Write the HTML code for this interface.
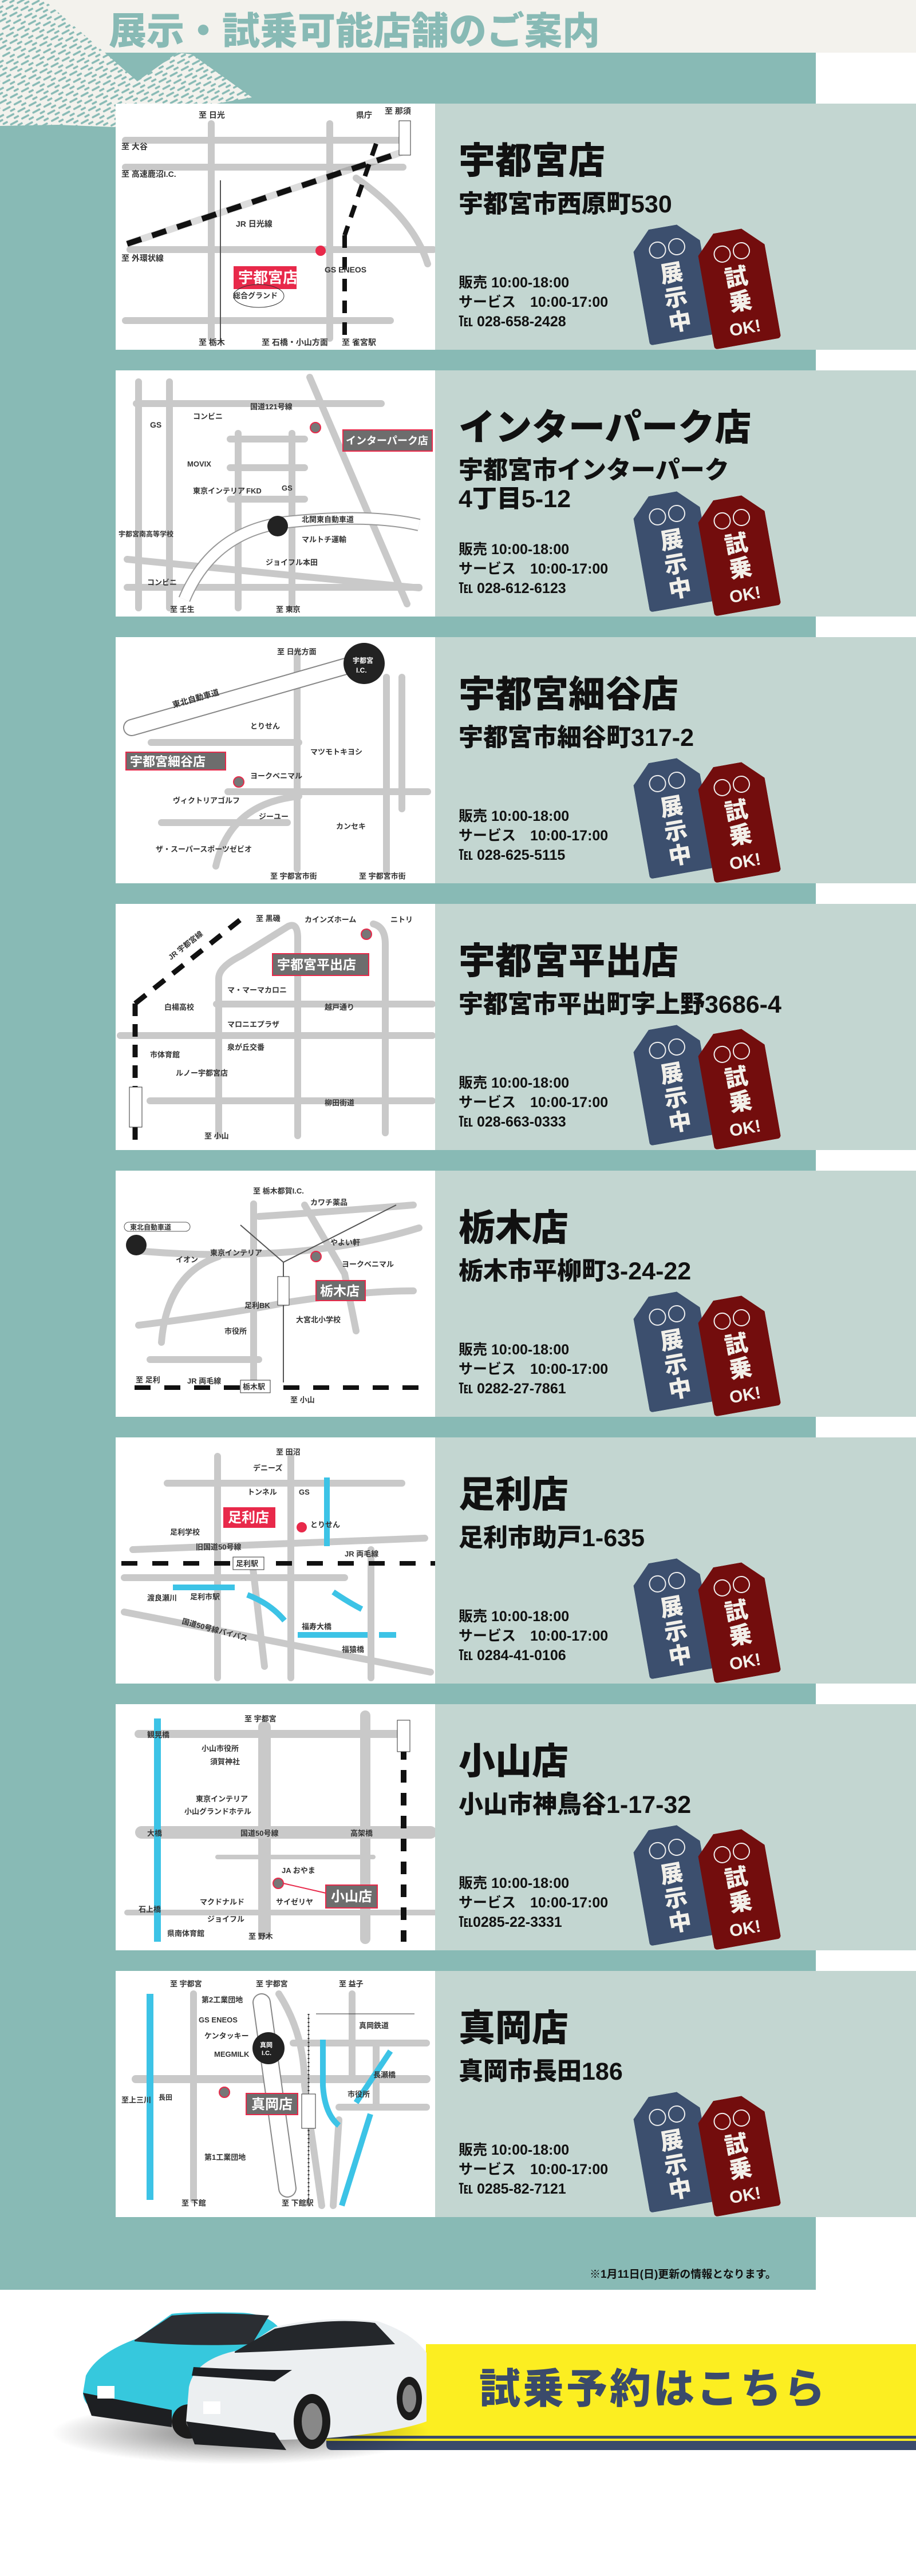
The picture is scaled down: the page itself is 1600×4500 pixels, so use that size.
<!DOCTYPE html>
<html><head><meta charset="utf-8">
<style>
*{margin:0;padding:0;box-sizing:border-box}
body{width:1600px;height:4500px;background:#fff;position:relative;overflow:hidden;font-family:"Liberation Sans","Noto Sans CJK JP",sans-serif}
.abs{position:absolute}
.title{left:190px;top:14px;font-size:66px;font-weight:900;color:#88bab5;letter-spacing:0px;white-space:nowrap;line-height:80px}
.card{position:absolute;left:202px;width:1398px;height:430px;background:#c3d6d1}
.map{position:absolute;left:0;top:0;width:558px;height:430px;background:#fff}
.name{position:absolute;left:599px;top:62px;font-size:64px;font-weight:900;color:#111;white-space:nowrap;line-height:76px}
.addr{position:absolute;left:599px;top:150px;font-size:43px;font-weight:900;color:#111;white-space:nowrap;line-height:52px}
.hrs{position:absolute;left:599px;top:296px;font-size:25px;font-weight:700;color:#111;line-height:34px;white-space:pre}
.tag{position:absolute;width:118px;height:200px;border-radius:6px;clip-path:polygon(28% 0,70% 0,100% 17%,100% 100%,0 100%,0 17%)}
.tag .t{position:absolute;left:0;right:0;top:62px;color:#f2f0ea;font-weight:900;font-size:40px;line-height:43px;text-align:center}
.gl{position:absolute;top:22px;left:20px;width:80px;height:32px}
.tb{background:#3c4f6e}.tr{background:#730d0d}
svg text{font-family:"Liberation Sans","Noto Sans CJK JP",sans-serif;font-weight:700;fill:#333}
</style></head><body>
<div class="abs" style="left:0;top:0;width:1600px;height:4000px;background:#f3f2ed"></div>
<div class="abs" style="left:1425px;top:92px;width:175px;height:3908px;background:#fff"></div>
<div class="abs" style="left:0;top:92px;width:1425px;height:3908px;background:#88bab5"></div>
<svg class="abs" style="left:0;top:0" width="460" height="240">
<defs><pattern id="p" width="22" height="14" patternUnits="userSpaceOnUse" patternTransform="rotate(-28)">
<rect width="22" height="14" fill="#f3f2ed"/><line x1="3" y1="5" x2="15" y2="5" stroke="#88bab5" stroke-width="3.5" stroke-linecap="round"/><line x1="14" y1="12" x2="21" y2="12" stroke="#88bab5" stroke-width="3.5" stroke-linecap="round"/></pattern></defs>
<polygon points="0,0 77,0 183,92 240,142 310,92 335,95 440,170 300,195 200,222 100,218 0,220" fill="url(#p)"/>
</svg>
<div class="abs title">展示・試乗可能店舗のご案内</div>

<!-- CARD 1 -->
<div class="card" style="top:181px">
<svg class="map" viewBox="0 0 558 430" width="558" height="430">
<g stroke="#c9c9c9" stroke-width="12" stroke-linecap="round" fill="none">
<line x1="17" y1="64" x2="502" y2="64"/><line x1="17" y1="111" x2="502" y2="111"/><line x1="25" y1="255" x2="555" y2="255"/><line x1="17" y1="379" x2="480" y2="379"/>
<line x1="167" y1="35" x2="167" y2="410"/><line x1="374" y1="35" x2="374" y2="410"/>
<path d="M420 130 Q520 200 545 280" /></g>
<line x1="20" y1="245" x2="500" y2="85" stroke="#111" stroke-width="10" stroke-dasharray="26 20"/>
<line x1="20" y1="245" x2="500" y2="85" stroke="#111" stroke-width="12" stroke-opacity=".15"/>
<line x1="400" y1="230" x2="400" y2="420" stroke="#111" stroke-width="8" stroke-dasharray="22 16"/>
<line x1="455" y1="70" x2="400" y2="230" stroke="#111" stroke-width="8" stroke-dasharray="22 16"/>
<line x1="183" y1="134" x2="183" y2="415" stroke="#555" stroke-width="2"/>
<rect x="495" y="30" width="20" height="60" fill="#fff" stroke="#333"/>
<rect x="206" y="284" width="110" height="40" fill="#e8294a"/><text x="214" y="313" font-size="26" style="fill:#fff">宇都宮店</text>
<circle cx="358" cy="257" r="9" fill="#e8294a"/>
<text x="145" y="25" font-size="14">至 日光</text><text x="10" y="80" font-size="14">至 大谷</text><text x="10" y="128" font-size="14">至 高速鹿沼I.C.</text><text x="10" y="275" font-size="14">至 外環状線</text><text x="145" y="422" font-size="14">至 栃木</text><text x="255" y="422" font-size="14">至 石橋・小山方面</text><text x="395" y="422" font-size="14">至 雀宮駅</text><text x="365" y="295" font-size="14">GS ENEOS</text><text x="420" y="25" font-size="14">県庁</text><text x="470" y="18" font-size="14">至 那須</text><text x="210" y="215" font-size="14">JR 日光線</text><text x="205" y="340" font-size="13">総合グランド</text>
<ellipse cx="250" cy="336" rx="44" ry="20" fill="none" stroke="#333"/>
</svg>
<div class="name">宇都宮店</div><div class="addr">宇都宮市西原町530</div>
<div class="hrs">販売 10:00-18:00
サービス　10:00-17:00
℡ 028-658-2428</div>
</div>

<!-- CARD 2 -->
<div class="card" style="top:647px">
<svg class="map" viewBox="0 0 558 430" width="558" height="430">
<g stroke="#c9c9c9" stroke-width="12" stroke-linecap="round" fill="none">
<line x1="36" y1="58" x2="464" y2="58"/><line x1="40" y1="20" x2="40" y2="415"/><line x1="94" y1="20" x2="94" y2="415"/><line x1="214" y1="110" x2="214" y2="415"/><line x1="308" y1="110" x2="308" y2="415"/>
<line x1="339" y1="12" x2="509" y2="408"/><line x1="20" y1="330" x2="530" y2="380"/><line x1="20" y1="379" x2="530" y2="379"/>
<path d="M200 120 H330 M200 170 H330 M200 225 H330"/></g>
<path d="M120 400 Q170 280 300 265 Q440 250 530 270" stroke="#999" stroke-width="22" fill="none"/><path d="M120 400 Q170 280 300 265 Q440 250 530 270" stroke="#fff" stroke-width="18" fill="none"/>
<circle cx="283" cy="272" r="18" fill="#222"/>
<rect x="397" y="104" width="156" height="37" fill="#6d6d6d" stroke="#e8294a" stroke-width="2"/><text x="402" y="129" font-size="18" style="fill:#fff">インターパーク店</text>
<circle cx="349" cy="100" r="9" fill="#777" stroke="#e8294a" stroke-width="2"/>
<text x="235" y="68" font-size="13">国道121号線</text><text x="135" y="85" font-size="13">コンビニ</text><text x="60" y="100" font-size="14">GS</text><text x="125" y="168" font-size="13">MOVIX</text><text x="135" y="215" font-size="13">東京インテリア</text><text x="228" y="215" font-size="13">FKD</text><text x="290" y="210" font-size="13">GS</text><text x="325" y="265" font-size="13">北関東自動車道</text><text x="325" y="300" font-size="13">マルトチ運輸</text><text x="262" y="340" font-size="13">ジョイフル本田</text><text x="55" y="375" font-size="13">コンビニ</text><text x="95" y="422" font-size="13">至 壬生</text><text x="280" y="422" font-size="13">至 東京</text><text x="5" y="290" font-size="12">宇都宮南高等学校</text>
</svg>
<div class="name">インターパーク店</div><div class="addr" style="top:150px;line-height:50px">宇都宮市インターパーク<br>4丁目5-12</div>
<div class="hrs">販売 10:00-18:00
サービス　10:00-17:00
℡ 028-612-6123</div>
</div>

<!-- CARD 3 -->
<div class="card" style="top:1113px">
<svg class="map" viewBox="0 0 558 430" width="558" height="430">
<g stroke="#c9c9c9" stroke-width="12" stroke-linecap="round" fill="none">
<line x1="317" y1="25" x2="317" y2="405"/><line x1="473" y1="70" x2="473" y2="410"/><line x1="500" y1="70" x2="500" y2="300"/>
<line x1="62" y1="184" x2="320" y2="184"/><line x1="196" y1="270" x2="545" y2="270"/><line x1="80" y1="324" x2="300" y2="324"/>
<path d="M175 400 Q200 290 320 278"/></g>
<path d="M28 158 L440 40" stroke="#888" stroke-width="30" stroke-linecap="round"/><path d="M28 158 L440 40" stroke="#fff" stroke-width="26" stroke-linecap="round"/>
<circle cx="434" cy="46" r="36" fill="#222"/><text x="414" y="45" font-size="12" style="fill:#fff">宇都宮</text><text x="420" y="62" font-size="12" style="fill:#fff">I.C.</text>
<rect x="18" y="201" width="174" height="31" fill="#6d6d6d" stroke="#e8294a" stroke-width="2"/><text x="25" y="225" font-size="22" style="fill:#fff">宇都宮細谷店</text>
<circle cx="215" cy="253" r="9" fill="#777" stroke="#e8294a" stroke-width="2"/>
<text x="100" y="118" font-size="14" transform="rotate(-16 120 118)">東北自動車道</text><text x="235" y="160" font-size="13">とりせん</text><text x="340" y="205" font-size="13">マツモトキヨシ</text><text x="235" y="247" font-size="13">ヨークベニマル</text><text x="100" y="290" font-size="13">ヴィクトリアゴルフ</text><text x="250" y="318" font-size="13">ジーユー</text><text x="385" y="335" font-size="13">カンセキ</text><text x="70" y="375" font-size="13">ザ・スーパースポーツゼビオ</text><text x="270" y="422" font-size="13">至 宇都宮市街</text><text x="425" y="422" font-size="13">至 宇都宮市街</text><text x="282" y="30" font-size="13">至 日光方面</text>
</svg>
<div class="name">宇都宮細谷店</div><div class="addr">宇都宮市細谷町317-2</div>
<div class="hrs">販売 10:00-18:00
サービス　10:00-17:00
℡ 028-625-5115</div>
</div>

<!-- CARD 4 -->
<div class="card" style="top:1579px">
<svg class="map" viewBox="0 0 558 430" width="558" height="430">
<g stroke="#c9c9c9" stroke-width="12" stroke-linecap="round" fill="none">
<path d="M180 405 V130 Q180 110 220 90 L300 40 Q318 30 318 60 V405"/><path d="M471 400 V70 Q471 40 450 35"/>
<line x1="176" y1="175" x2="553" y2="175"/><line x1="8" y1="230" x2="553" y2="230"/><line x1="60" y1="344" x2="553" y2="344"/></g>
<line x1="34" y1="174" x2="230" y2="18" stroke="#111" stroke-width="9" stroke-dasharray="24 18"/>
<line x1="34" y1="174" x2="34" y2="415" stroke="#111" stroke-width="9" stroke-dasharray="22 14"/>
<rect x="24" y="320" width="22" height="70" fill="#fff" stroke="#333"/>
<rect x="274" y="87" width="168" height="38" fill="#6d6d6d" stroke="#e8294a" stroke-width="2"/><text x="282" y="114" font-size="23" style="fill:#fff">宇都宮平出店</text>
<circle cx="438" cy="53" r="9" fill="#777" stroke="#e8294a" stroke-width="2"/>
<text x="245" y="30" font-size="13">至 黒磯</text><text x="330" y="32" font-size="13">カインズホーム</text><text x="480" y="32" font-size="13">ニトリ</text><text x="195" y="155" font-size="13">マ・マーマカロニ</text><text x="365" y="185" font-size="13">越戸通り</text><text x="85" y="185" font-size="13">白楊高校</text><text x="195" y="215" font-size="13">マロニエプラザ</text><text x="195" y="255" font-size="13">泉が丘交番</text><text x="60" y="268" font-size="13">市体育館</text><text x="105" y="300" font-size="13">ルノー宇都宮店</text><text x="365" y="352" font-size="13">柳田街道</text><text x="155" y="410" font-size="13">至 小山</text><text x="90" y="80" font-size="13" transform="rotate(-38 120 80)">JR 宇都宮線</text>
</svg>
<div class="name">宇都宮平出店</div><div class="addr">宇都宮市平出町字上野3686-4</div>
<div class="hrs">販売 10:00-18:00
サービス　10:00-17:00
℡ 028-663-0333</div>
</div>

<!-- CARD 5 -->
<div class="card" style="top:2045px">
<svg class="map" viewBox="0 0 558 430" width="558" height="430">
<g stroke="#c9c9c9" stroke-width="12" stroke-linecap="round" fill="none">
<line x1="241" y1="58" x2="241" y2="379"/><path d="M38 140 Q150 150 250 145 Q400 140 530 100"/><path d="M40 270 Q200 250 300 230 Q430 210 520 210"/><path d="M80 300 Q90 180 180 150"/><path d="M250 80 Q400 70 520 60"/><path d="M330 60 L400 180 L420 280"/><path d="M60 330 L250 330"/></g>
<line x1="33" y1="379" x2="530" y2="379" stroke="#111" stroke-width="8" stroke-dasharray="28 24"/>
<line x1="293" y1="160" x2="293" y2="370" stroke="#555" stroke-width="2"/><line x1="293" y1="160" x2="490" y2="60" stroke="#555" stroke-width="2"/><line x1="293" y1="160" x2="218" y2="95" stroke="#555" stroke-width="2"/>
<rect x="283" y="185" width="20" height="50" fill="#fff" stroke="#333"/><rect x="218" y="366" width="52" height="22" fill="#fff" stroke="#333"/><text x="222" y="382" font-size="13">栃木駅</text>
<circle cx="36" cy="130" r="18" fill="#222"/><rect x="15" y="90" width="115" height="16" rx="8" fill="#fff" stroke="#555"/><text x="25" y="103" font-size="12">東北自動車道</text>
<rect x="350" y="192" width="86" height="35" fill="#6d6d6d" stroke="#e8294a" stroke-width="2"/><text x="357" y="218" font-size="23" style="fill:#fff">栃木店</text>
<circle cx="350" cy="150" r="9" fill="#777" stroke="#e8294a" stroke-width="2"/>
<text x="240" y="40" font-size="13">至 栃木都賀I.C.</text><text x="340" y="60" font-size="13">カワチ薬品</text><text x="375" y="130" font-size="13">やよい軒</text><text x="395" y="168" font-size="13">ヨークベニマル</text><text x="105" y="160" font-size="13">イオン</text><text x="165" y="148" font-size="13">東京インテリア</text><text x="225" y="240" font-size="13">足利BK</text><text x="190" y="285" font-size="13">市役所</text><text x="315" y="265" font-size="13">大宮北小学校</text><text x="125" y="372" font-size="13">JR 両毛線</text><text x="305" y="405" font-size="13">至 小山</text><text x="35" y="370" font-size="13">至 足利</text>
</svg>
<div class="name">栃木店</div><div class="addr">栃木市平柳町3-24-22</div>
<div class="hrs">販売 10:00-18:00
サービス　10:00-17:00
℡ 0282-27-7861</div>
</div>

<!-- CARD 6 -->
<div class="card" style="top:2511px">
<svg class="map" viewBox="0 0 558 430" width="558" height="430">
<g stroke="#c9c9c9" stroke-width="12" stroke-linecap="round" fill="none">
<line x1="90" y1="80" x2="500" y2="80"/><line x1="30" y1="196" x2="540" y2="176"/><line x1="15" y1="245" x2="400" y2="245"/><line x1="178" y1="33" x2="178" y2="420"/><line x1="306" y1="33" x2="306" y2="420"/><line x1="446" y1="196" x2="446" y2="420"/><path d="M15 305 L550 410"/><path d="M240 230 L260 400"/></g>
<line x1="10" y1="220" x2="558" y2="220" stroke="#111" stroke-width="8" stroke-dasharray="28 26"/>
<rect x="205" y="209" width="54" height="22" fill="#fff" stroke="#333"/><text x="210" y="225" font-size="13">足利駅</text>
<g stroke="#3cc3e6" stroke-width="10" fill="none"><line x1="369" y1="70" x2="369" y2="190"/><path d="M100 262 H208"/><path d="M230 275 Q270 290 295 320"/><path d="M318 345 H440"/><path d="M380 270 Q410 290 430 300"/><path d="M460 345 H490"/></g>
<rect x="188" y="122" width="91" height="36" fill="#e8294a"/><text x="196" y="148" font-size="24" style="fill:#fff">足利店</text>
<circle cx="325" cy="157" r="9" fill="#e8294a"/>
<text x="280" y="30" font-size="13">至 田沼</text><text x="240" y="58" font-size="13">デニーズ</text><text x="230" y="100" font-size="13">トンネル</text><text x="320" y="100" font-size="13">GS</text><text x="340" y="157" font-size="13">とりせん</text><text x="95" y="170" font-size="13">足利学校</text><text x="140" y="196" font-size="13">旧国道50号線</text><text x="400" y="208" font-size="13">JR 両毛線</text><text x="55" y="285" font-size="13">渡良瀬川</text><text x="130" y="283" font-size="13">足利市駅</text><text x="115" y="325" font-size="13" transform="rotate(15 115 325)">国道50号線バイパス</text><text x="325" y="335" font-size="13">福寿大橋</text><text x="395" y="375" font-size="13">福猿橋</text>
</svg>
<div class="name">足利店</div><div class="addr">足利市助戸1-635</div>
<div class="hrs">販売 10:00-18:00
サービス　10:00-17:00
℡ 0284-41-0106</div>
</div>

<!-- CARD 7 -->
<div class="card" style="top:2977px">
<svg class="map" viewBox="0 0 558 430" width="558" height="430">
<g stroke="#c9c9c9" stroke-linecap="round" fill="none">
<line x1="40" y1="52" x2="500" y2="52" stroke-width="14"/><line x1="45" y1="224" x2="550" y2="224" stroke-width="22"/><line x1="178" y1="267" x2="450" y2="267" stroke-width="8"/><line x1="20" y1="364" x2="558" y2="364" stroke-width="10"/><line x1="260" y1="40" x2="260" y2="400" stroke-width="22"/><line x1="436" y1="20" x2="436" y2="410" stroke-width="18"/></g>
<line x1="73" y1="25" x2="73" y2="415" stroke="#3cc3e6" stroke-width="12"/>
<line x1="503" y1="35" x2="503" y2="415" stroke="#111" stroke-width="10" stroke-dasharray="22 18"/><rect x="492" y="28" width="22" height="55" fill="#fff" stroke="#333"/>
<rect x="367" y="316" width="90" height="40" fill="#6d6d6d" stroke="#e8294a" stroke-width="2"/><text x="376" y="344" font-size="24" style="fill:#fff">小山店</text>
<circle cx="284" cy="313" r="9" fill="#777" stroke="#e8294a" stroke-width="2"/><path d="M293 313 L367 330" stroke="#e8294a" stroke-width="2"/>
<text x="225" y="30" font-size="13">至 宇都宮</text><text x="55" y="58" font-size="13">観晃橋</text><text x="150" y="82" font-size="13">小山市役所</text><text x="165" y="105" font-size="13">須賀神社</text><text x="140" y="170" font-size="13">東京インテリア</text><text x="120" y="192" font-size="13">小山グランドホテル</text><text x="55" y="230" font-size="13">大橋</text><text x="218" y="230" font-size="13">国道50号線</text><text x="410" y="230" font-size="13">高架橋</text><text x="290" y="295" font-size="13">JA おやま</text><text x="147" y="350" font-size="13">マクドナルド</text><text x="280" y="350" font-size="13">サイゼリヤ</text><text x="160" y="380" font-size="13">ジョイフル</text><text x="90" y="405" font-size="13">県南体育館</text><text x="232" y="410" font-size="13">至 野木</text><text x="40" y="363" font-size="13">石上橋</text>
</svg>
<div class="name">小山店</div><div class="addr">小山市神鳥谷1-17-32</div>
<div class="hrs">販売 10:00-18:00
サービス　10:00-17:00
℡0285-22-3331</div>
</div>

<!-- CARD 8 -->
<div class="card" style="top:3443px">
<svg class="map" viewBox="0 0 558 430" width="558" height="430">
<g stroke="#c9c9c9" stroke-width="12" stroke-linecap="round" fill="none">
<line x1="35" y1="189" x2="543" y2="189" stroke-width="14"/><line x1="310" y1="126" x2="543" y2="126"/><line x1="390" y1="238" x2="543" y2="238"/><line x1="136" y1="40" x2="136" y2="400"/><line x1="413" y1="40" x2="413" y2="189"/><line x1="455" y1="126" x2="455" y2="238"/><path d="M285 40 Q330 110 330 200 L360 410"/><path d="M390 260 L380 410"/></g>
<path d="M255 55 L300 380" stroke="#888" stroke-width="32" stroke-linecap="round"/><path d="M255 55 L300 380" stroke="#fff" stroke-width="28" stroke-linecap="round"/>
<line x1="60" y1="40" x2="60" y2="400" stroke="#3cc3e6" stroke-width="12"/>
<g stroke="#3cc3e6" stroke-width="10" fill="none"><path d="M362 120 V200 Q365 250 390 270"/><path d="M480 140 L420 230"/><path d="M445 250 L395 410"/></g>
<line x1="337" y1="75" x2="337" y2="400" stroke="#333" stroke-width="3" stroke-dasharray="2 5"/><line x1="337" y1="75" x2="337" y2="400" stroke="#333" stroke-width="1"/><line x1="350" y1="75" x2="522" y2="75" stroke="#333" stroke-width="1"/>
<rect x="325" y="215" width="24" height="60" fill="#fff" stroke="#333"/>
<circle cx="267" cy="135" r="28" fill="#222"/><text x="252" y="133" font-size="11" style="fill:#fff">真岡</text><text x="255" y="147" font-size="11" style="fill:#fff">I.C.</text>
<rect x="228" y="214" width="90" height="37" fill="#6d6d6d" stroke="#e8294a" stroke-width="2"/><text x="237" y="241" font-size="24" style="fill:#fff">真岡店</text>
<circle cx="190" cy="212" r="9" fill="#777" stroke="#e8294a" stroke-width="2"/>
<text x="95" y="27" font-size="13">至 宇都宮</text><text x="245" y="27" font-size="13">至 宇都宮</text><text x="390" y="27" font-size="13">至 益子</text><text x="150" y="55" font-size="13">第2工業団地</text><text x="145" y="90" font-size="13">GS ENEOS</text><text x="155" y="118" font-size="13">ケンタッキー</text><text x="172" y="150" font-size="13">MEGMILK</text><text x="425" y="100" font-size="13">真岡鉄道</text><text x="450" y="186" font-size="13">長瀬橋</text><text x="405" y="220" font-size="13">市役所</text><text x="155" y="330" font-size="13">第1工業団地</text><text x="115" y="410" font-size="13">至 下館</text><text x="290" y="410" font-size="13">至 下館駅</text><text x="10" y="230" font-size="13">至上三川</text><text x="75" y="225" font-size="12">長田</text>
</svg>
<div class="name">真岡店</div><div class="addr">真岡市長田186</div>
<div class="hrs">販売 10:00-18:00
サービス　10:00-17:00
℡ 0285-82-7121</div>
</div>

<div class="abs" style="left:1030px;top:3958px;font-size:19px;font-weight:700;color:#111;white-space:nowrap">※1月11日(日)更新の情報となります。</div>

<!-- bottom banner -->
<svg class="abs" style="left:0;top:4000px" width="1600" height="340">
<defs><linearGradient id="yg" x1="0" x2="1"><stop offset="0" stop-color="#fcee21" stop-opacity="0"/><stop offset=".3" stop-color="#fcee21"/></linearGradient>
<radialGradient id="sh" cx=".5" cy=".5" r=".5"><stop offset="0" stop-color="#000" stop-opacity=".55"/><stop offset="1" stop-color="#000" stop-opacity="0"/></radialGradient></defs>
<rect x="744" y="95" width="856" height="160" fill="#fcee21"/>
<rect x="570" y="180" width="180" height="75" fill="url(#yg)"/>
<rect x="570" y="255" width="1030" height="5" fill="#3a4a6b"/>
<rect x="570" y="260" width="1030" height="4" fill="#fcee21"/>
<path d="M570 264 H1600 V280 H580 Q570 280 570 270Z" fill="#3a4a6b"/>
<ellipse cx="420" cy="250" rx="330" ry="55" fill="url(#sh)"/>
<path d="M150 150 Q170 110 240 85 L300 42 Q330 38 420 40 Q470 42 490 70 L480 200 Q420 240 300 225 L180 215 Q145 205 145 180Z" fill="#36c8dd"/>
<path d="M235 88 L300 45 Q380 38 470 45 L440 95 Q330 100 235 90Z" fill="#2b2e33"/>
<path d="M145 180 L300 210 L300 240 L160 220Z" fill="#1d1f22"/>
<ellipse cx="330" cy="230" rx="30" ry="30" fill="#1b1b1b"/>
<rect x="170" y="168" width="30" height="22" fill="#fff"/>
<path d="M330 170 Q340 120 420 105 L480 65 Q560 45 660 55 Q720 75 745 110 L745 230 Q690 250 560 260 L400 265 Q330 260 325 230Z" fill="#eceff1"/>
<path d="M410 108 L480 68 Q580 48 655 58 L690 95 Q550 105 410 110Z" fill="#24272b"/>
<path d="M335 150 L480 160 L510 140 Q420 140 338 135Z" fill="#1e2024"/>
<path d="M325 230 L480 250 L500 280 L340 270Z" fill="#1d1f22"/>
<ellipse cx="545" cy="230" rx="32" ry="48" fill="#1b1b1b"/><ellipse cx="545" cy="230" rx="18" ry="32" fill="#888"/>
<ellipse cx="715" cy="190" rx="22" ry="38" fill="#1b1b1b"/><ellipse cx="715" cy="190" rx="12" ry="24" fill="#888"/>
<rect x="355" y="195" width="30" height="22" fill="#fff"/>
<text x="837" y="198" font-size="72" style="fill:#3a4a6b;font-weight:900" letter-spacing="4">試乗予約はこちら</text>
</svg>

<div class="tag tb" style="left:1117px;top:395px;transform:rotate(-10deg)"><svg class="gl"><circle cx="22" cy="16" r="14" fill="none" stroke="#eee" stroke-width="2"/><circle cx="56" cy="16" r="14" fill="none" stroke="#eee" stroke-width="2"/></svg><div class="t">展<br>示<br>中</div></div>
<div class="tag tr" style="left:1230px;top:402px;transform:rotate(-10deg)"><svg class="gl"><circle cx="22" cy="16" r="14" fill="none" stroke="#eee" stroke-width="2"/><circle cx="56" cy="16" r="14" fill="none" stroke="#eee" stroke-width="2"/></svg><div class="t">試<br>乗<br><span style="font-size:30px">OK!</span></div></div>
<div class="tag tb" style="left:1117px;top:861px;transform:rotate(-10deg)"><svg class="gl"><circle cx="22" cy="16" r="14" fill="none" stroke="#eee" stroke-width="2"/><circle cx="56" cy="16" r="14" fill="none" stroke="#eee" stroke-width="2"/></svg><div class="t">展<br>示<br>中</div></div>
<div class="tag tr" style="left:1230px;top:868px;transform:rotate(-10deg)"><svg class="gl"><circle cx="22" cy="16" r="14" fill="none" stroke="#eee" stroke-width="2"/><circle cx="56" cy="16" r="14" fill="none" stroke="#eee" stroke-width="2"/></svg><div class="t">試<br>乗<br><span style="font-size:30px">OK!</span></div></div>
<div class="tag tb" style="left:1117px;top:1327px;transform:rotate(-10deg)"><svg class="gl"><circle cx="22" cy="16" r="14" fill="none" stroke="#eee" stroke-width="2"/><circle cx="56" cy="16" r="14" fill="none" stroke="#eee" stroke-width="2"/></svg><div class="t">展<br>示<br>中</div></div>
<div class="tag tr" style="left:1230px;top:1334px;transform:rotate(-10deg)"><svg class="gl"><circle cx="22" cy="16" r="14" fill="none" stroke="#eee" stroke-width="2"/><circle cx="56" cy="16" r="14" fill="none" stroke="#eee" stroke-width="2"/></svg><div class="t">試<br>乗<br><span style="font-size:30px">OK!</span></div></div>
<div class="tag tb" style="left:1117px;top:1793px;transform:rotate(-10deg)"><svg class="gl"><circle cx="22" cy="16" r="14" fill="none" stroke="#eee" stroke-width="2"/><circle cx="56" cy="16" r="14" fill="none" stroke="#eee" stroke-width="2"/></svg><div class="t">展<br>示<br>中</div></div>
<div class="tag tr" style="left:1230px;top:1800px;transform:rotate(-10deg)"><svg class="gl"><circle cx="22" cy="16" r="14" fill="none" stroke="#eee" stroke-width="2"/><circle cx="56" cy="16" r="14" fill="none" stroke="#eee" stroke-width="2"/></svg><div class="t">試<br>乗<br><span style="font-size:30px">OK!</span></div></div>
<div class="tag tb" style="left:1117px;top:2259px;transform:rotate(-10deg)"><svg class="gl"><circle cx="22" cy="16" r="14" fill="none" stroke="#eee" stroke-width="2"/><circle cx="56" cy="16" r="14" fill="none" stroke="#eee" stroke-width="2"/></svg><div class="t">展<br>示<br>中</div></div>
<div class="tag tr" style="left:1230px;top:2266px;transform:rotate(-10deg)"><svg class="gl"><circle cx="22" cy="16" r="14" fill="none" stroke="#eee" stroke-width="2"/><circle cx="56" cy="16" r="14" fill="none" stroke="#eee" stroke-width="2"/></svg><div class="t">試<br>乗<br><span style="font-size:30px">OK!</span></div></div>
<div class="tag tb" style="left:1117px;top:2725px;transform:rotate(-10deg)"><svg class="gl"><circle cx="22" cy="16" r="14" fill="none" stroke="#eee" stroke-width="2"/><circle cx="56" cy="16" r="14" fill="none" stroke="#eee" stroke-width="2"/></svg><div class="t">展<br>示<br>中</div></div>
<div class="tag tr" style="left:1230px;top:2732px;transform:rotate(-10deg)"><svg class="gl"><circle cx="22" cy="16" r="14" fill="none" stroke="#eee" stroke-width="2"/><circle cx="56" cy="16" r="14" fill="none" stroke="#eee" stroke-width="2"/></svg><div class="t">試<br>乗<br><span style="font-size:30px">OK!</span></div></div>
<div class="tag tb" style="left:1117px;top:3191px;transform:rotate(-10deg)"><svg class="gl"><circle cx="22" cy="16" r="14" fill="none" stroke="#eee" stroke-width="2"/><circle cx="56" cy="16" r="14" fill="none" stroke="#eee" stroke-width="2"/></svg><div class="t">展<br>示<br>中</div></div>
<div class="tag tr" style="left:1230px;top:3198px;transform:rotate(-10deg)"><svg class="gl"><circle cx="22" cy="16" r="14" fill="none" stroke="#eee" stroke-width="2"/><circle cx="56" cy="16" r="14" fill="none" stroke="#eee" stroke-width="2"/></svg><div class="t">試<br>乗<br><span style="font-size:30px">OK!</span></div></div>
<div class="tag tb" style="left:1117px;top:3657px;transform:rotate(-10deg)"><svg class="gl"><circle cx="22" cy="16" r="14" fill="none" stroke="#eee" stroke-width="2"/><circle cx="56" cy="16" r="14" fill="none" stroke="#eee" stroke-width="2"/></svg><div class="t">展<br>示<br>中</div></div>
<div class="tag tr" style="left:1230px;top:3664px;transform:rotate(-10deg)"><svg class="gl"><circle cx="22" cy="16" r="14" fill="none" stroke="#eee" stroke-width="2"/><circle cx="56" cy="16" r="14" fill="none" stroke="#eee" stroke-width="2"/></svg><div class="t">試<br>乗<br><span style="font-size:30px">OK!</span></div></div>
</body></html>
